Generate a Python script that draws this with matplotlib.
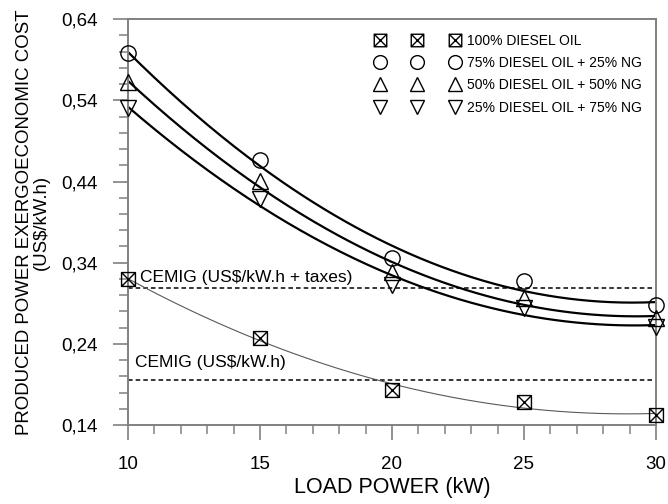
import numpy as np
import matplotlib
matplotlib.use("Agg")
import matplotlib.pyplot as plt
from matplotlib.path import Path
from matplotlib.ticker import AutoMinorLocator, FuncFormatter

# data
load_kw = [10, 15, 20, 25, 30]
diesel_100 = [0.320, 0.247, 0.183, 0.168, 0.152]
diesel_75_ng_25 = [0.598, 0.467, 0.346, 0.317, 0.288]
diesel_50_ng_50 = [0.562, 0.441, 0.328, 0.297, 0.272]
diesel_25_ng_75 = [0.530, 0.418, 0.312, 0.284, 0.261]
cemig_taxes = 0.309
cemig = 0.196
labels = ["100% DIESEL OIL", "75% DIESEL OIL + 25% NG",
          "50% DIESEL OIL + 50% NG", "25% DIESEL OIL + 75% NG"]

plt.rcParams["font.family"] = ["Liberation Sans", "DejaVu Sans"]

# square with a cross inside
box_x = Path([(-1, -1), (1, -1), (1, 1), (-1, 1), (-1, -1),
              (-1, -1), (1, 1), (-1, 1), (1, -1)],
             [Path.MOVETO, Path.LINETO, Path.LINETO, Path.LINETO, Path.CLOSEPOLY,
              Path.MOVETO, Path.LINETO, Path.MOVETO, Path.LINETO])

fig = plt.figure(figsize=(6.68, 5.04), dpi=100)
fig.patch.set_facecolor("white")
ax = fig.add_axes([0.1916, 0.1567, 0.7904, 0.8053])

x = np.array(load_kw, dtype=float)
xf = np.linspace(10, 30, 200)

series = [
    (diesel_100, box_x, 10, "0.35", 0.8),
    (diesel_75_ng_25, "o", 11, "black", 1.6),
    (diesel_50_ng_50, "^", 11, "black", 1.6),
    (diesel_25_ng_75, "v", 11, "black", 1.6),
]

handles = []
for (y, marker, ms, lc, lw), label in zip(series, labels):
    # second order fit through the points
    coef = np.polyfit(x, y, 2)
    ax.plot(xf, np.polyval(coef, xf), color=lc, lw=lw, zorder=2)
    h, = ax.plot(x, y, linestyle="none", marker=marker, markersize=ms,
                 markerfacecolor="none", markeredgecolor="black",
                 markeredgewidth=1.0, label=label, zorder=3, clip_on=False)
    handles.append(h)

ax.axhline(cemig_taxes, color="black", lw=1.1, ls=(0, (3, 2)), zorder=1)
ax.axhline(cemig, color="black", lw=1.1, ls=(0, (3, 2)), zorder=1)
ax.text(10.45, cemig_taxes + 0.004, "CEMIG (US\\$/kW.h + taxes)", fontsize=12.5,
        va="bottom", ha="left")
ax.text(10.25, cemig + 0.012, "CEMIG (US\\$/kW.h)", fontsize=12.5,
        va="bottom", ha="left")

ax.set_xlim(10, 30)
ax.set_ylim(0.14, 0.64)
ax.set_xticks([10, 15, 20, 25, 30])
ax.set_yticks(np.arange(0.14, 0.65, 0.1))
ax.xaxis.set_minor_locator(AutoMinorLocator(5))
ax.yaxis.set_minor_locator(AutoMinorLocator(5))
ax.yaxis.set_major_formatter(FuncFormatter(lambda v, p: ("%.2f" % v).replace(".", ",")))

for s in ax.spines.values():
    s.set_color("0.5")
    s.set_linewidth(1.4)
ax.tick_params(which="major", direction="out", length=11, width=1.2,
               color="0.5", labelsize=13.5, pad=11)
ax.tick_params(which="minor", direction="out", length=6.5, width=1.1, color="0.5")

ax.set_xlabel("LOAD POWER (kW)", fontsize=15.5, labelpad=3)
ax.set_ylabel("PRODUCED POWER EXERGOECONOMIC COST\n(US\\$/kW.h)", fontsize=13.4,
              labelpad=8, linespacing=0.95)

ax.legend(handles=handles, loc="upper right", bbox_to_anchor=(0.99, 0.985),
          frameon=False, numpoints=3, handlelength=6.0, handletextpad=0.6,
          labelspacing=0.6, fontsize=10, borderaxespad=0.2, markerscale=0.9)

fig.savefig("out.png", dpi=100)
